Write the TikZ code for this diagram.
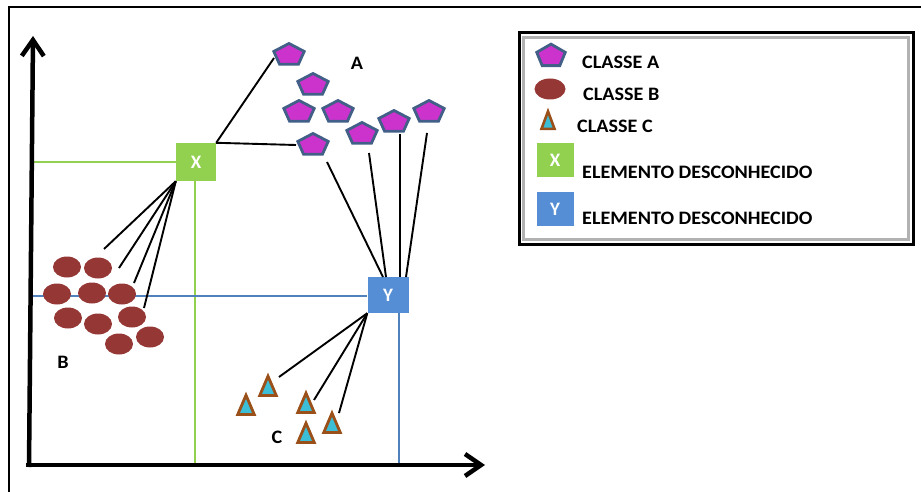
\documentclass[tikz,border=0pt]{standalone}
\usepackage{fontspec}
\setmainfont{Carlito}
\usetikzlibrary{shapes.geometric,arrows.meta}
\definecolor{pentfill}{RGB}{204,51,204}
\definecolor{pentdraw}{RGB}{65,95,135}
\definecolor{xgreen}{RGB}{146,208,80}
\definecolor{yblue}{RGB}{85,142,213}
\definecolor{lblue}{RGB}{79,129,189}
\definecolor{bred}{RGB}{149,55,53}
\definecolor{tfill}{RGB}{60,190,215}
\definecolor{tdraw}{RGB}{155,80,25}
\begin{document}
\begin{tikzpicture}[x=1pt,y=-1pt,
  lbl/.style={font=\fontsize{19}{21}\selectfont\bfseries, inner sep=0pt, xscale=1.06},
  pent/.style={regular polygon, regular polygon sides=5, minimum size=32pt, inner sep=0pt,
     fill=pentfill, draw=pentdraw, line width=2.8pt, yscale=0.72},
  ell/.style={ellipse, minimum width=28pt, minimum height=21pt, inner sep=0pt, fill=bred},
  tri/.style={regular polygon, regular polygon sides=3, minimum size=19pt, inner sep=0pt,
     fill=tfill, draw=tdraw, line width=2.8pt, yscale=1.35},
  xbox/.style={fill=xgreen, minimum width=40pt, minimum height=38pt, inner sep=0pt,
     text=white, font=\fontsize{19}{21}\selectfont\bfseries},
  ybox/.style={fill=yblue, minimum width=41pt, minimum height=36pt, inner sep=0pt,
     text=white, font=\fontsize{19}{21}\selectfont\bfseries},
  link/.style={line width=1.9pt, black},
  axis/.style={line width=4.5pt, -{Straight Barb[length=16pt,width=22pt]}},
]
\useasboundingbox (0,0) rectangle (921,492);
% outer frame
\draw[line width=1.5pt] (9,492) -- (9,7) -- (921,7);

% guide lines
\draw[xgreen, line width=1.5pt] (31,162) -- (176,162);
\draw[xgreen, line width=1.5pt] (195,181) -- (195,465);
\draw[lblue, line width=1.5pt] (31,296) -- (367,296);
\draw[lblue, line width=1.5pt] (399,313) -- (399,465);

% axes
\coordinate (ybase) at (29,467);
\coordinate (ytip) at (33,36);
\coordinate (xtip) at (485,465);
\coordinate (xstart) at (26,465);
\draw[axis] (ybase) -- (ytip);
\draw[axis] (xstart) -- (xtip);

% class A
\node[pent] (a1) at (289,55) {};
\node[pent] (a2) at (313,85) {};
\node[pent] (a3) at (299,112) {};
\node[pent] (a4) at (338,112) {};
\node[pent] (a5) at (362,134) {};
\node[pent] (a6) at (394,122) {};
\node[pent] (a7) at (429,112) {};
\node[pent] (a8) at (313,145) {};
\node[lbl] (la) at (357,63) {A};

% class B
\node[ell] (b1) at (67,267) {};
\node[ell] (b2) at (98,268) {};
\node[ell] (b3) at (57,294) {};
\node[ell] (b4) at (92,293) {};
\node[ell] (b5) at (122,294) {};
\node[ell] (b6) at (68,318) {};
\node[ell] (b7) at (98,324) {};
\node[ell] (b8) at (132,317) {};
\node[ell] (b9) at (119,344) {};
\node[ell] (b10) at (150,337) {};
\node[lbl] (lb) at (63,362) {B};

% class C
\node[tri] (c1) at (268,389) {};
\node[tri] (c2) at (246,408) {};
\node[tri] (c3) at (306,406) {};
\node[tri] (c4) at (332,426) {};
\node[tri] (c5) at (306,436) {};
\node[lbl] (lc) at (277,437) {C};

% unknown elements
\node[xbox] (X) at (196,162) {X};
\node[ybox] (Y) at (388,295) {Y};

% links from X
\coordinate (xb1) at (104,249);
\coordinate (xb2) at (119,268);
\coordinate (xb3) at (134,283);
\coordinate (xb4) at (144,308);
\foreach \e in {xb1,xb2,xb3,xb4} \draw[link] (X.south west) -- (\e);
\coordinate (xa1) at (274,58);
\coordinate (xa2) at (296,145);
\draw[link] (X.north east) -- (xa1);
\draw[link] (X.north east) -- (xa2);

% links from Y
\coordinate (ya1) at (327,162);
\coordinate (ya2) at (369,153);
\coordinate (ya3) at (400,134);
\coordinate (ya4) at (427,133);
\coordinate (yt1) at (383,277);
\coordinate (yt2) at (386,277);
\coordinate (yt3) at (400,277);
\coordinate (yt4) at (406,277);
\draw[link] (ya1) -- (yt1);
\draw[link] (ya2) -- (yt2);
\draw[link] (ya3) -- (yt3);
\draw[link] (ya4) -- (yt4);
\coordinate (yc1) at (279,377);
\coordinate (yc2) at (314,400);
\coordinate (yc3) at (339,413);
\foreach \e in {yc1,yc2,yc3} \draw[link] (Y.south west) -- (\e);

% legend
\draw[line width=3pt, black] (519,33) rectangle (913,244);
\draw[line width=2.5pt, gray!60] (523.5,37.5) rectangle (908.5,239.5);
\node[pent, minimum size=30pt, yscale=1.1] (la1) at (551,56) {};
\node[lbl, anchor=west] (lt1) at (582,62) {CLASSE A};
\node[ell, minimum width=31pt, minimum height=21pt] (lb1) at (550,89) {};
\node[lbl, anchor=west] (lt2) at (583,94) {CLASSE B};
\node[tri, minimum size=15pt, yscale=1.15, line width=2.6pt] (lc1) at (548,123) {};
\node[lbl, anchor=west] (lt3) at (577,126) {CLASSE C};
\node[xbox, minimum width=37pt, minimum height=34pt] (lx) at (555,160) {X};
\node[lbl, anchor=west] (lt4) at (582,172) {ELEMENTO DESCONHECIDO};
\node[ybox, minimum width=37pt, minimum height=34pt] (ly) at (555,209) {Y};
\node[lbl, anchor=west] (lt5) at (582,218) {ELEMENTO DESCONHECIDO};
\end{tikzpicture}
\end{document}
